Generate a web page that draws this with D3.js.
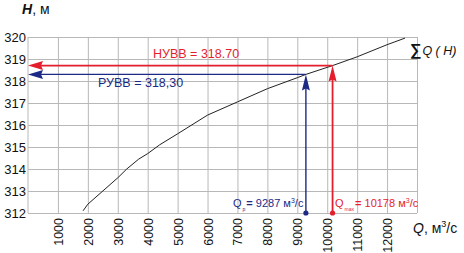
<!DOCTYPE html>
<html>
<head>
<meta charset="utf-8">
<script src="https://cdn.jsdelivr.net/npm/d3@7"></script>
<style>
  html, body { margin: 0; padding: 0; background: #fff; }
  svg { display: block; font-family: "Liberation Sans", Arial, sans-serif; }
</style>
</head>
<body>
<svg id="chart" width="464" height="253"></svg>
<script>
// curve ΣQ(H): discharge (m3/s) vs level (m)
const curveQ = [1840, 2000, 3000, 3300, 3700, 4000, 4400, 5000, 6000, 7000, 8000, 9000, 9287, 10178, 11000, 12000, 12600];
const curveH = [312.1, 312.4, 313.6, 314.0, 314.45, 314.7, 315.1, 315.6, 316.45, 317.05, 317.65, 318.15, 318.3, 318.7, 319.1, 319.65, 319.95];

const xTicks = [1000, 2000, 3000, 4000, 5000, 6000, 7000, 8000, 9000, 10000, 11000, 12000, 13000];
const yTicks = [312, 313, 314, 315, 316, 317, 318, 319, 320];

const levelH = [318.70, 318.30];       // НУВВ, РУВВ
const levelQ = [10178, 9287];
const levelName = ['НУВВ = 318.70', 'РУВВ = 318,30'];
const qValue = ['10178', '9287'];
const qSub = ['max', 'р'];

const RED = '#e41e2c', BLUE = '#1c2a86', GRID = '#b8b8b8';

const svg = d3.select('#chart');
svg.append('rect').attr('width', 464).attr('height', 253).attr('fill', '#fff');

const x = d3.scaleLinear().domain([0, 13000]).range([28, 417]);
const y = d3.scaleLinear().domain([312, 320]).range([213, 37]);

// grid + y labels
const gy = svg.append('g').attr('transform', 'translate(28,0)')
  .call(d3.axisLeft(y).tickValues(yTicks).tickSize(-(417 - 28)).tickFormat(d3.format('d')).tickPadding(2));
gy.select('.domain').remove();
gy.selectAll('line').attr('stroke', GRID);
gy.selectAll('text').attr('font-size', 13).attr('fill', '#111').attr('dy', '0.36em');

const gx = svg.append('g').attr('transform', 'translate(0,213)')
  .call(d3.axisBottom(x).tickValues(xTicks).tickSize(-(213 - 37)).tickFormat(d3.format('d')));
gx.select('.domain').remove();
gx.selectAll('line').attr('stroke', GRID);
gx.selectAll('text')
  .attr('font-size', 12.5).attr('fill', '#111')
  .attr('text-anchor', 'end')
  .attr('transform', 'translate(0,5) rotate(-90)')
  .attr('x', 0).attr('y', 0).attr('dy', '0.36em')
  .text(d => d === 13000 ? '' : d);

// left axis line
svg.append('line').attr('x1', 28).attr('x2', 28).attr('y1', 37).attr('y2', 213).attr('stroke', GRID);

// curve
const line = d3.line().x(d => x(d)).y((d, i) => y(curveH[i]));
svg.append('path').datum(curveQ).attr('d', line)
  .attr('fill', 'none').attr('stroke', '#222').attr('stroke-width', 1);

// level lines with arrows
[0, 1].forEach(i => {
  const c = i === 0 ? RED : BLUE;
  const w = i === 0 ? 1.8 : 1.4;
  const xl = x(levelQ[i]), yl = y(levelH[i]);
  svg.append('line').attr('x1', x(0) + 10).attr('x2', xl).attr('y1', yl).attr('y2', yl)
    .attr('stroke', c).attr('stroke-width', w);
  svg.append('line').attr('x1', xl).attr('x2', xl).attr('y1', yl + 10).attr('y2', y(312))
    .attr('stroke', c).attr('stroke-width', w);
  // left arrowhead
  svg.append('path')
    .attr('d', `M${x(0)},${yl} L${x(0) + 15},${yl - 4.5} L${x(0) + 13},${yl} L${x(0) + 15},${yl + 4.5}Z`)
    .attr('fill', c);
  // up arrowhead
  svg.append('path')
    .attr('d', `M${xl},${yl} L${xl - 4},${yl + 16} L${xl},${yl + 14} L${xl + 4},${yl + 16}Z`)
    .attr('fill', c);
  svg.append('circle').attr('cx', xl).attr('cy', y(312)).attr('r', 2.6).attr('fill', c);
});

// level labels
svg.append('text').attr('x', 153).attr('y', 57.5).attr('font-size', 12.5).attr('fill', RED).text(levelName[0]);
svg.append('text').attr('x', 98).attr('y', 86.5).attr('font-size', 12.5).attr('fill', BLUE).text(levelName[1]);

// Q labels
function qLabel(i, x0, col) {
  const t = svg.append('text').attr('x', x0).attr('y', 207).attr('font-size', 11).attr('fill', col);
  t.append('tspan').text('Q');
  t.append('tspan').attr('font-size', 5).attr('dy', 4).attr('dx', 1).text(qSub[i]);
  t.append('tspan').attr('dy', -4).attr('dx', 1).attr('font-weight', 'bold').text('=');
  t.append('tspan').text(' ' + qValue[i] + ' м');
  t.append('tspan').attr('font-size', 7).attr('dy', -4).text('3');
  t.append('tspan').attr('dy', 4).text('/с');
}
qLabel(1, 233, BLUE);
qLabel(0, 335, RED);

// curve label
const cl = svg.append('text').attr('x', 410).attr('y', 55).attr('fill', '#111');
cl.append('tspan').attr('font-size', 16).attr('font-weight', 'bold').text('∑');
cl.append('tspan').attr('font-size', 12.5).attr('font-style', 'italic').attr('dx', 1).text('Q  ( H)');

// axis titles
const ht = svg.append('text').attr('x', 22).attr('y', 14).attr('font-size', 14).attr('fill', '#111');
ht.append('tspan').attr('font-style', 'italic').attr('font-weight', 'bold').text('H');
ht.append('tspan').text(', м');

const qt = svg.append('text').attr('x', 413).attr('y', 233).attr('font-size', 14).attr('fill', '#111');
qt.append('tspan').attr('font-style', 'italic').text('Q');
qt.append('tspan').text(', м');
qt.append('tspan').attr('font-size', 9).attr('dy', -6).text('3');
qt.append('tspan').attr('dy', 6).text('/с');
</script>
</body>
</html>
